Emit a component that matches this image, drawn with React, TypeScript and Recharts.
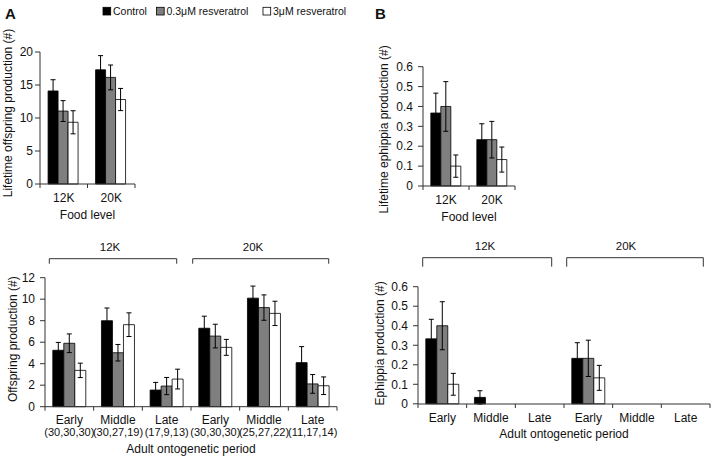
import React from 'react';
import { BarChart, Bar, XAxis, YAxis, ErrorBar } from 'recharts';

const FONT = '"Liberation Sans", Arial, Helvetica, sans-serif';
const INK = '#111111';
const AXIS = '#333333';

// series
const seriesKeys = ['control', 'low', 'high'];
const seriesNames = ['Control', '0.3\u03bcM resveratrol', '3\u03bcM resveratrol'];
const seriesFills = ['#000000', '#7f7f7f', '#ffffff'];

// categories
const foodLevels = ['12K', '20K'];
const periodFood = ['12K', '12K', '12K', '20K', '20K', '20K'];
const periods = ['Early', 'Middle', 'Late', 'Early', 'Middle', 'Late'];
const sampleSizes = ['(30,30,30)', '(30,27,19)', '(17,9,13)', '(30,30,30)', '(25,27,22)', '(11,17,14)'];

// A, top: lifetime offspring production
const lifeOffspringControl = [14.1, 17.3];
const lifeOffspringLow = [11.05, 16.15];
const lifeOffspringHigh = [9.35, 12.8];
const lifeOffspringControlErr = [1.7, 2.15];
const lifeOffspringLowErr = [1.58, 1.88];
const lifeOffspringHighErr = [1.75, 1.68];

// B, top: lifetime ephippia production
const lifeEphippiaControl = [0.367, 0.233];
const lifeEphippiaLow = [0.4, 0.233];
const lifeEphippiaHigh = [0.1, 0.133];
const lifeEphippiaControlErr = [0.1, 0.08];
const lifeEphippiaLowErr = [0.125, 0.092];
const lifeEphippiaHighErr = [0.056, 0.063];

// A, bottom: offspring production by period
const offspringControl = [5.25, 8.0, 1.55, 7.3, 10.1, 4.1];
const offspringLow = [5.9, 5.02, 1.92, 6.57, 9.22, 2.12];
const offspringHigh = [3.38, 7.63, 2.57, 5.52, 8.68, 1.95];
const offspringControlErr = [0.73, 1.18, 0.71, 1.12, 1.12, 1.49];
const offspringLowErr = [0.87, 0.77, 0.8, 1.1, 1.18, 0.87];
const offspringHighErr = [0.67, 1.1, 0.92, 0.74, 1.13, 0.82];

// B, bottom: ephippia production by period
const ephippiaControl = [0.333, 0.033, 0, 0.233, 0, 0];
const ephippiaLow = [0.4, 0, 0, 0.233, 0, 0];
const ephippiaHigh = [0.1, 0, 0, 0.133, 0, 0];
const ephippiaControlErr = [0.1, 0.034, 0, 0.08, 0, 0];
const ephippiaLowErr = [0.123, 0, 0, 0.093, 0, 0];
const ephippiaHighErr = [0.056, 0, 0, 0.064, 0, 0];

const offspringTicks = [0, 5, 10, 15, 20];
const periodOffspringTicks = [0, 2, 4, 6, 8, 10, 12];
const ephippiaTicks = [0, 0.1, 0.2, 0.3, 0.4, 0.5, 0.6];

type Row = Record<string, any>;

function buildRows(
  labels: string[],
  vals: number[][],
  errs: number[][],
  extra?: (i: number) => Row
): Row[] {
  return labels.map((label, i) => {
    const row: Row = { cat: `${label}-${i}`, label, ...(extra ? extra(i) : {}) };
    seriesKeys.forEach((k, s) => {
      row[k] = vals[s][i];
      row[`${k}Err`] = errs[s][i];
    });
    return row;
  });
}

const lifeOffspringRows = buildRows(
  foodLevels,
  [lifeOffspringControl, lifeOffspringLow, lifeOffspringHigh],
  [lifeOffspringControlErr, lifeOffspringLowErr, lifeOffspringHighErr]
);
const lifeEphippiaRows = buildRows(
  foodLevels,
  [lifeEphippiaControl, lifeEphippiaLow, lifeEphippiaHigh],
  [lifeEphippiaControlErr, lifeEphippiaLowErr, lifeEphippiaHighErr]
);
const offspringRows = buildRows(
  periods,
  [offspringControl, offspringLow, offspringHigh],
  [offspringControlErr, offspringLowErr, offspringHighErr],
  (i) => ({ food: periodFood[i], n: sampleSizes[i] })
);
const ephippiaRows = buildRows(
  periods,
  [ephippiaControl, ephippiaLow, ephippiaHigh],
  [ephippiaControlErr, ephippiaLowErr, ephippiaHighErr],
  (i) => ({ food: periodFood[i] })
);

const X_TICK_SIZE = 4;
const X_TICK_MARGIN = 5;

function CategoryTick(props: any) {
  const { x, y, index, band, count, rows, showN } = props;
  const axisY = y - X_TICK_SIZE - X_TICK_MARGIN;
  const edges = [x - band / 2];
  if (index === count - 1) edges.push(x + band / 2);
  const row = rows[index];
  return (
    <g>
      {edges.map((ex: number, k: number) => (
        <line key={k} x1={ex} x2={ex} y1={axisY} y2={axisY + 4} stroke={AXIS} strokeWidth={1} />
      ))}
      <text x={x} y={y} dy="0.71em" textAnchor="middle" fontSize={12} fill={INK} fontFamily={FONT}>
        {row ? row.label : ''}
      </text>
      {showN && row ? (
        <text x={x} y={y + 12.5} dy="0.71em" textAnchor="middle" fontSize={11} fill={INK} fontFamily={FONT}>
          {row.n}
        </text>
      ) : null}
    </g>
  );
}

function yTitle(text: string, cx: number, shift: number) {
  return (p: any) => {
    const vb = p.viewBox || { x: 0, y: 0, height: 0 };
    const x = vb.x + cx;
    const y = vb.y + vb.height / 2 + shift;
    return (
      <text
        x={x}
        y={y}
        dy="0.355em"
        transform={`rotate(-90, ${x}, ${y})`}
        textAnchor="middle"
        fontSize={12}
        fill={INK}
        fontFamily={FONT}
      >
        {text}
      </text>
    );
  };
}

type PanelProps = {
  rows: Row[];
  left: number;
  top: number;
  width: number;
  height: number;
  margin: { top: number; right: number; bottom: number; left: number };
  yWidth: number;
  domain: [number, number];
  ticks: number[];
  yLabel: string;
  yLabelX: number;
  yLabelShift: number;
  xLabel: string;
  xHeight: number;
  yTickMargin: number;
  showN?: boolean;
  gap: string;
};

function Panel(p: PanelProps) {
  const plotW = p.width - p.margin.left - p.margin.right - p.yWidth;
  const band = plotW / p.rows.length;
  return (
    <div style={{ position: 'absolute', left: p.left, top: p.top }}>
      <BarChart
        width={p.width}
        height={p.height}
        data={p.rows}
        margin={p.margin}
        barGap={0}
        barCategoryGap={p.gap}
      >
        <XAxis
          dataKey="cat"
          height={p.xHeight}
          axisLine={{ stroke: AXIS }}
          tickLine={false}
          tickSize={X_TICK_SIZE}
          tickMargin={X_TICK_MARGIN}
          interval={0}
          tick={(t: any) => (
            <CategoryTick {...t} band={band} count={p.rows.length} rows={p.rows} showN={p.showN} />
          )}
          label={{ value: p.xLabel, position: 'insideBottom', offset: 0, fontSize: 12, fill: INK, fontFamily: FONT }}
        />
        <YAxis
          width={p.yWidth}
          domain={p.domain}
          ticks={p.ticks}
          interval={0}
          axisLine={{ stroke: AXIS }}
          tickLine={{ stroke: AXIS }}
          tickSize={5}
          tickMargin={p.yTickMargin}
          tick={{ fontSize: 12, fill: INK, fontFamily: FONT }}
          label={{ value: p.yLabel, content: yTitle(p.yLabel, p.yLabelX, p.yLabelShift) }}
        />
        {seriesKeys.map((k, s) => (
          <Bar
            key={k}
            dataKey={k}
            name={seriesNames[s]}
            fill={seriesFills[s]}
            stroke="#000"
            strokeWidth={0.8}
            isAnimationActive={false}
          >
            <ErrorBar dataKey={`${k}Err`} width={2.5} stroke="#000" strokeWidth={1} direction="y" />
          </Bar>
        ))}
      </BarChart>
    </div>
  );
}

// overlay layout (legend, panel letters, food-level brackets)
const legendX = [103, 156.5, 263];
const brackets = [
  { x1: 49.3, x2: 176.7, y: 258.7, drop: 5, lx: 110, ly: 251 },
  { x1: 192.7, x2: 328.7, y: 258.7, drop: 5, lx: 253, ly: 251 },
  { x1: 422.7, x2: 551.7, y: 257.7, drop: 9, lx: 485, ly: 249.5 },
  { x1: 566.7, x2: 703.3, y: 257.7, drop: 9, lx: 626, ly: 249.5 },
];
const bracketLabels = [foodLevels[0], foodLevels[1], foodLevels[0], foodLevels[1]];

export default function App() {
  return (
    <div
      style={{
        position: 'absolute',
        left: 0,
        top: 0,
        width: 714,
        height: 459,
        background: '#fff',
        fontFamily: FONT,
        overflow: 'hidden',
      }}
    >
      <Panel
        rows={lifeOffspringRows}
        left={0}
        top={0}
        width={180}
        height={230}
        margin={{ top: 52, right: 45, bottom: 11, left: 0 }}
        yWidth={40}
        domain={[0, 20]}
        ticks={offspringTicks}
        yLabel="Lifetime offspring production (#)"
        yLabelX={8}
        yLabelShift={-5}
        xLabel="Food level"
        xHeight={35}
        yTickMargin={2}
        gap="17%"
      />
      <Panel
        rows={lifeEphippiaRows}
        left={360}
        top={0}
        width={180}
        height={230}
        margin={{ top: 66.7, right: 25, bottom: 9, left: 0 }}
        yWidth={63}
        domain={[0, 0.6]}
        ticks={ephippiaTicks}
        yLabel="Lifetime ephippia production (#)"
        yLabelX={23.5}
        yLabelShift={3}
        xLabel="Food level"
        xHeight={35}
        yTickMargin={5}
        gap="17%"
      />
      <Panel
        rows={offspringRows}
        left={0}
        top={230}
        width={360}
        height={229}
        margin={{ top: 47.7, right: 23, bottom: 6.3, left: 0 }}
        yWidth={45}
        domain={[0, 12]}
        ticks={periodOffspringTicks}
        yLabel="Offspring production (#)"
        yLabelX={12.5}
        yLabelShift={-3}
        xLabel="Adult ontogenetic period"
        xHeight={46}
        yTickMargin={5}
        showN
        gap="16%"
      />
      <Panel
        rows={ephippiaRows}
        left={360}
        top={230}
        width={354}
        height={229}
        margin={{ top: 56.7, right: 4, bottom: 21, left: 0 }}
        yWidth={58}
        domain={[0, 0.6]}
        ticks={ephippiaTicks}
        yLabel="Ephippia production (#)"
        yLabelX={20}
        yLabelShift={-2}
        xLabel="Adult ontogenetic period"
        xHeight={34}
        yTickMargin={5}
        gap="16%"
      />
      <svg
        width={714}
        height={459}
        style={{ position: 'absolute', left: 0, top: 0, pointerEvents: 'none' }}
      >
        <text x={5} y={18.5} fontSize={15} fontWeight="bold" fill={INK} fontFamily={FONT}>A</text>
        <text x={375} y={18.5} fontSize={15} fontWeight="bold" fill={INK} fontFamily={FONT}>B</text>
        {seriesNames.map((name, s) => (
          <g key={name}>
            <rect x={legendX[s]} y={7.3} width={7.7} height={7.7} fill={seriesFills[s]} stroke="#000" strokeWidth={0.8} />
            <text x={legendX[s] + 10} y={15} fontSize={10.5} fill={INK} fontFamily={FONT}>{name}</text>
          </g>
        ))}
        {brackets.map((b, i) => (
          <g key={i}>
            <path
              d={`M${b.x1},${b.y + b.drop} L${b.x1},${b.y} L${b.x2},${b.y} L${b.x2},${b.y + b.drop}`}
              fill="none"
              stroke={AXIS}
              strokeWidth={1}
            />
            <text x={b.lx} y={b.ly} textAnchor="middle" fontSize={11.5} fill={INK} fontFamily={FONT}>
              {bracketLabels[i]}
            </text>
          </g>
        ))}
      </svg>
    </div>
  );
}
